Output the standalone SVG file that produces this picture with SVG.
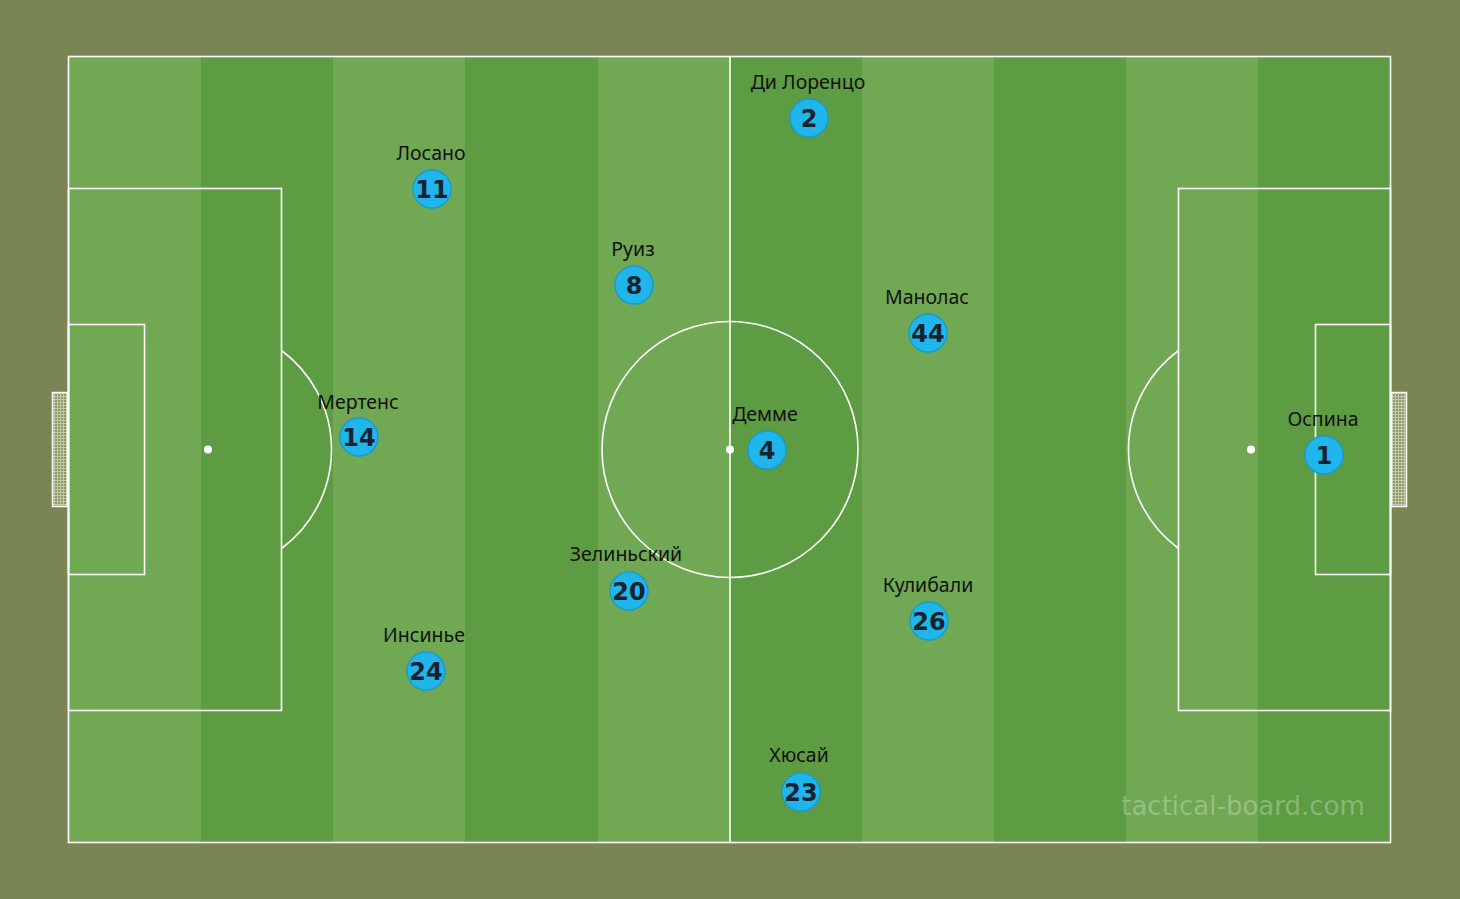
<svg xmlns="http://www.w3.org/2000/svg" width="1460" height="899" viewBox="0 0 1460 899">
<defs>
<style>
.ln{fill:none;stroke:#ffffff;stroke-width:1.6}
.lt{fill:#70a853}
.dk{fill:#5d9c42}
.tok circle{fill:#20b6ec;stroke:#189ccc;stroke-width:1.5}
.nm{font-family:"Noto Sans","DejaVu Sans",sans-serif;font-size:19.5px;fill:#111;text-anchor:middle}
.nu{font-family:"DejaVu Sans",Verdana,sans-serif;font-size:24px;font-weight:bold;fill:#18222e;text-anchor:middle}
</style>
<pattern id="net" width="3" height="3" patternUnits="userSpaceOnUse">
<rect width="3" height="3" fill="#8a976a"/>
<path d="M0 0.5H3M0.5 0V3" stroke="#c2cca8" stroke-width="1"/>
</pattern>
</defs>
<rect width="1460" height="899" fill="#798553"/>
<g id="pitch">
<rect class="lt" x="68" y="56" width="133" height="787"/>
<rect class="dk" x="201" y="56" width="132" height="787"/>
<rect class="lt" x="333" y="56" width="132" height="787"/>
<rect class="dk" x="465" y="56" width="133" height="787"/>
<rect class="lt" x="598" y="56" width="132" height="787"/>
<rect class="dk" x="730" y="56" width="132" height="787"/>
<rect class="lt" x="862" y="56" width="132" height="787"/>
<rect class="dk" x="994" y="56" width="132" height="787"/>
<rect class="lt" x="1126" y="56" width="132" height="787"/>
<rect class="dk" x="1258" y="56" width="133" height="787"/>
<rect x="52.5" y="392.5" width="15" height="114" fill="url(#net)" stroke="#fff" stroke-width="1.5"/>
<rect x="1391.5" y="392.5" width="15" height="114" fill="url(#net)" stroke="#fff" stroke-width="1.5"/>
<rect class="ln" x="68.5" y="56.5" width="1322" height="786"/>
<line class="ln" x1="730" y1="56" x2="730" y2="843"/>
<circle class="ln" cx="730" cy="449.5" r="128"/>
<circle cx="730" cy="449.5" r="4" fill="#fff"/>
<rect class="ln" x="68.5" y="188.5" width="213" height="522"/>
<rect class="ln" x="68.5" y="324.5" width="76" height="250"/>
<circle cx="208" cy="449.5" r="4" fill="#fff"/>
<path class="ln" d="M281.5 350.5 A123 123 0 0 1 281.5 548.5"/>
<rect class="ln" x="1178.5" y="188.5" width="212" height="522"/>
<rect class="ln" x="1315.5" y="324.5" width="75" height="250"/>
<circle cx="1251" cy="449.5" r="4" fill="#fff"/>
<path class="ln" d="M1178.5 350.5 A123 123 0 0 0 1178.5 548.5"/>
<text x="1243" y="815" font-family="'Comic Sans MS','DejaVu Sans',sans-serif" font-size="26" fill="#ffffff" fill-opacity="0.28" text-anchor="middle">tactical-board.com</text>
</g>
<g id="connectors"></g>
<g id="p2" class="tok"><circle cx="809" cy="118" r="19"/><text class="nm" x="808" y="89">Ди Лоренцо</text><text class="nu" x="809" y="127">2</text></g>
<g id="p11" class="tok"><circle cx="432" cy="189" r="19"/><text class="nm" x="431" y="160">Лосано</text><text class="nu" x="432" y="198">11</text></g>
<g id="p8" class="tok"><circle cx="634" cy="285" r="19"/><text class="nm" x="633" y="256">Руиз</text><text class="nu" x="634" y="294">8</text></g>
<g id="p44" class="tok"><circle cx="928" cy="333" r="19"/><text class="nm" x="927" y="304">Манолас</text><text class="nu" x="928" y="342">44</text></g>
<g id="p14" class="tok"><circle cx="359" cy="437" r="19"/><text class="nm" x="358" y="409">Мертенс</text><text class="nu" x="359" y="446">14</text></g>
<g id="p4" class="tok"><circle cx="767" cy="450" r="19"/><text class="nm" x="765" y="421">Демме</text><text class="nu" x="767" y="459">4</text></g>
<g id="p1" class="tok"><circle cx="1324" cy="455" r="19"/><text class="nm" x="1323" y="426">Оспина</text><text class="nu" x="1324" y="464">1</text></g>
<g id="p20" class="tok"><circle cx="629" cy="591" r="19"/><text class="nm" x="626" y="561">Зелиньский</text><text class="nu" x="629" y="600">20</text></g>
<g id="p26" class="tok"><circle cx="929" cy="621" r="19"/><text class="nm" x="928" y="592">Кулибали</text><text class="nu" x="929" y="630">26</text></g>
<g id="p24" class="tok"><circle cx="426" cy="671" r="19"/><text class="nm" x="424" y="642">Инсинье</text><text class="nu" x="426" y="680">24</text></g>
<g id="p23" class="tok"><circle cx="801" cy="792" r="19"/><text class="nm" x="799" y="762">Хюсай</text><text class="nu" x="801" y="801">23</text></g>
</svg>
